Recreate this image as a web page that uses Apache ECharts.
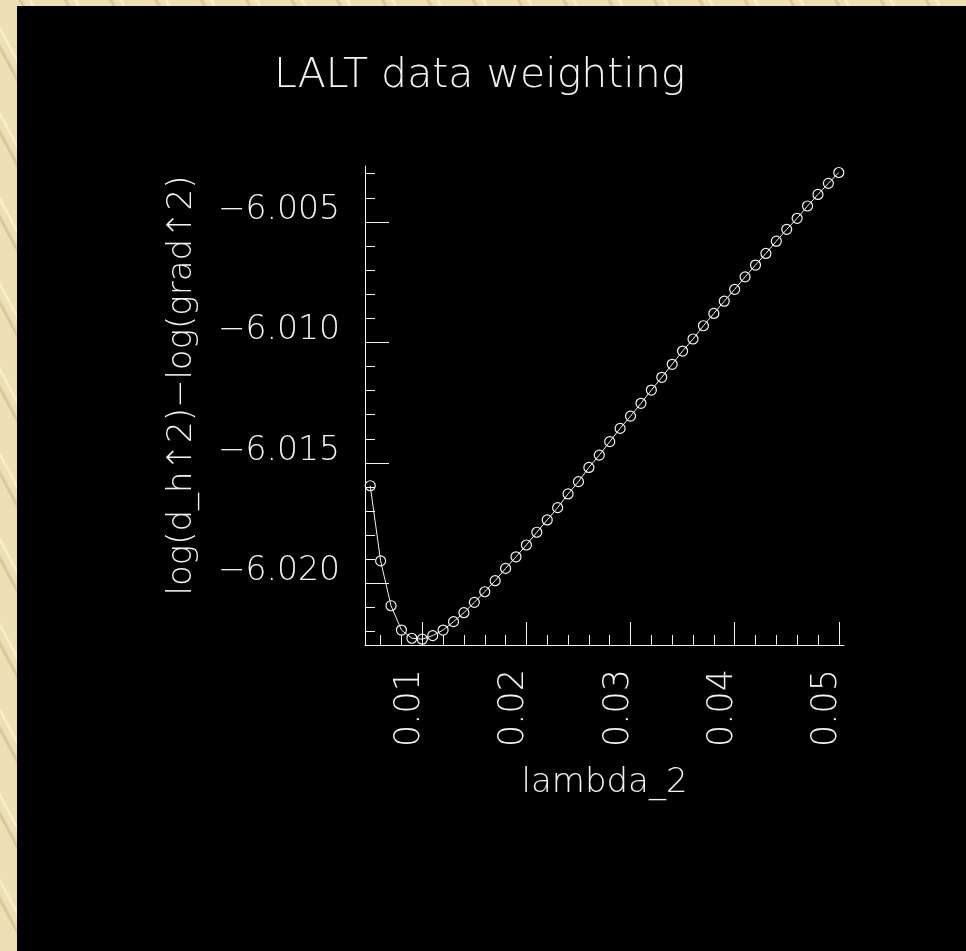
<!DOCTYPE html>
<html>
<head>
<meta charset="utf-8">
<title>LALT data weighting</title>
<script src="https://cdn.jsdelivr.net/npm/echarts@6/dist/echarts.min.js"></script>
<style>
  html, body {
    margin: 0;
    padding: 0;
    width: 966px;
    height: 951px;
    overflow: hidden;
    background-color: #eee0b6;
    background-image:
      repeating-linear-gradient(62deg, rgba(190,170,120,0.0) 0px, rgba(190,170,120,0.0) 22px, rgba(190,170,120,0.55) 24px, rgba(190,170,120,0.0) 27px, rgba(190,170,120,0.0) 40px),
      repeating-linear-gradient(62deg, rgba(255,250,225,0.0) 0px, rgba(255,250,225,0.0) 31px, rgba(255,250,225,0.7) 33px, rgba(255,250,225,0.0) 35px, rgba(255,250,225,0.0) 40px);
  }
  #chart {
    position: absolute;
    left: 17px;
    top: 6px;
    width: 949px;
    height: 945px;
    background: #000;
  }
</style>
</head>
<body>
<div id="chart"></div>
<script>
// lambda_2 sample values and the weighting curve evaluated at each one
const lambda2 = [
  0.005, 0.006, 0.007, 0.008, 0.009, 0.010, 0.011, 0.012, 0.013, 0.014,
  0.015, 0.016, 0.017, 0.018, 0.019, 0.020, 0.021, 0.022, 0.023, 0.024,
  0.025, 0.026, 0.027, 0.028, 0.029, 0.030, 0.031, 0.032, 0.033, 0.034,
  0.035, 0.036, 0.037, 0.038, 0.039, 0.040, 0.041, 0.042, 0.043, 0.044,
  0.045, 0.046, 0.047, 0.048, 0.049, 0.050
];
const logRatio = [
  -6.01595, -6.01907, -6.02093, -6.02194, -6.02228, -6.02232, -6.02217, -6.02194, -6.02159, -6.02122,
  -6.02079, -6.02035, -6.01989, -6.01938, -6.01890, -6.01841, -6.01788, -6.01737, -6.01686, -6.01629,
  -6.01578, -6.01519, -6.01468, -6.01412, -6.01357, -6.01306, -6.01253, -6.01198, -6.01145, -6.01091,
  -6.01036, -6.00986, -6.00931, -6.00880, -6.00829, -6.00780, -6.00728, -6.00679, -6.00631, -6.00580,
  -6.00531, -6.00485, -6.00434, -6.00386, -6.00340, -6.00295
];

// axis ranges and tick positions
const xRange = [0.0045, 0.0505];
const yRange = [-6.02256, -6.00268];
const xMajorTicks = [0.01, 0.02, 0.03, 0.04, 0.05];
const xMinorTicks = [
  0.006, 0.008, 0.012, 0.014, 0.016, 0.018, 0.022, 0.024, 0.026, 0.028,
  0.032, 0.034, 0.036, 0.038, 0.042, 0.044, 0.046, 0.048
];
const yMajorTicks = [-6.020, -6.015, -6.010, -6.005];
const yMinorTicks = [
  -6.022, -6.021, -6.019, -6.018, -6.017, -6.016, -6.014, -6.013,
  -6.012, -6.011, -6.009, -6.008, -6.007, -6.006, -6.004, -6.003
];
const xTickLabels = ['0.01', '0.02', '0.03', '0.04', '0.05'];
const yTickLabels = ['\u22126.020', '\u22126.015', '\u22126.010', '\u22126.005'];

const INK = '#f2f2f2';
const FONT = '"DejaVu Sans", sans-serif';

const chart = echarts.init(document.getElementById('chart'), null, { renderer: 'canvas' });

function labelFor(values, labels) {
  return function (v) {
    for (let i = 0; i < values.length; i++) {
      if (Math.abs(values[i] - v) < 1e-9) return labels[i];
    }
    return '';
  };
}

const baseLine = { show: true, onZero: false, lineStyle: { color: INK, width: 1 } };

chart.setOption({
  backgroundColor: '#000',
  animation: false,
  title: {
    text: 'LALT data weighting',
    left: 252,
    top: 45,
    textStyle: { color: INK, fontFamily: FONT, fontSize: 41, fontWeight: 200 }
  },
  grid: { left: 348, right: 122, top: 160, bottom: 306, containLabel: false },
  xAxis: [
    {
      type: 'value',
      min: xRange[0],
      max: xRange[1],
      position: 'bottom',
      name: 'lambda_2',
      nameLocation: 'middle',
      nameGap: 121,
      nameMoveOverlap: false,
      nameTextStyle: { color: INK, fontFamily: FONT, fontSize: 34, fontWeight: 200 },
      axisLine: baseLine,
      splitLine: { show: false },
      axisTick: { show: true, inside: true, length: 23, customValues: xMajorTicks, lineStyle: { color: INK, width: 1 } },
      axisLabel: {
        show: true,
        customValues: xMajorTicks,
        formatter: labelFor(xMajorTicks, xTickLabels),
        rotate: 90,
        margin: 24,
        color: INK,
        fontFamily: FONT,
        fontSize: 35,
        fontWeight: 200,
        verticalAlign: 'bottom',
        lineHeight: 24
      }
    },
    {
      type: 'value',
      min: xRange[0],
      max: xRange[1],
      position: 'bottom',
      axisLine: { show: false, onZero: false },
      splitLine: { show: false },
      axisLabel: { show: false },
      axisTick: { show: true, inside: true, length: 10, customValues: xMinorTicks, lineStyle: { color: INK, width: 1 } }
    }
  ],
  yAxis: [
    {
      type: 'value',
      min: yRange[0],
      max: yRange[1],
      position: 'left',
      name: 'log(d_h\u21912)\u2212log(grad\u21912)',
      nameLocation: 'middle',
      nameGap: 166,
      nameMoveOverlap: false,
      nameTextStyle: { color: INK, fontFamily: FONT, fontSize: 34, fontWeight: 200, padding: [0, 0, 0, 40] },
      axisLine: baseLine,
      splitLine: { show: false },
      axisTick: { show: true, inside: true, length: 24, customValues: yMajorTicks, lineStyle: { color: INK, width: 1 } },
      axisLabel: {
        show: true,
        customValues: yMajorTicks,
        formatter: labelFor(yMajorTicks, yTickLabels),
        margin: 25,
        color: INK,
        fontFamily: FONT,
        fontSize: 33,
        fontWeight: 200,
        verticalAlign: 'bottom',
        lineHeight: 23
      }
    },
    {
      type: 'value',
      min: yRange[0],
      max: yRange[1],
      position: 'left',
      axisLine: { show: false, onZero: false },
      splitLine: { show: false },
      axisLabel: { show: false },
      axisTick: { show: true, inside: true, length: 10, customValues: yMinorTicks, lineStyle: { color: INK, width: 1 } }
    }
  ],
  series: [
    {
      type: 'line',
      xAxisIndex: 0,
      yAxisIndex: 0,
      data: lambda2.map((x, i) => [x, logRatio[i]]),
      symbol: 'circle',
      symbolSize: 10,
      showAllSymbol: true,
      lineStyle: { color: INK, width: 1 },
      itemStyle: { color: 'rgba(0,0,0,0)', borderColor: INK, borderWidth: 1.2 },
      emphasis: { disabled: true },
      clip: false
    }
  ]
});
</script>
</body>
</html>
